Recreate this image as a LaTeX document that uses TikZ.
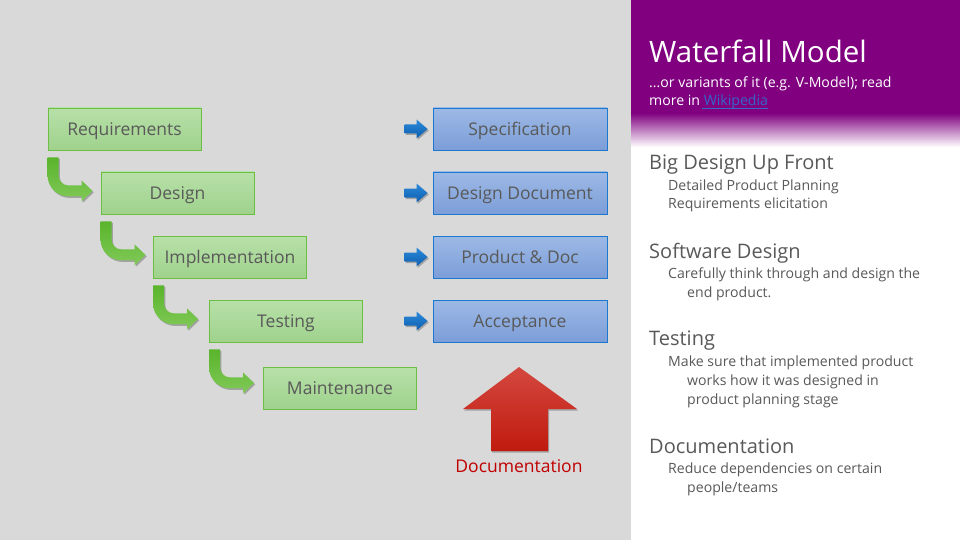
\documentclass[tikz,border=0pt]{standalone}
\usepackage{fontspec}
\setmainfont{Open Sans}
\usetikzlibrary{shadows}

\definecolor{panelgray}{HTML}{D9D9D9}
\definecolor{textgray}{HTML}{595959}
\definecolor{purpleband}{HTML}{800080}
\definecolor{greentop}{HTML}{B7E0A9}
\definecolor{greenbot}{HTML}{9FD28C}
\definecolor{greenline}{HTML}{6CBF42}
\definecolor{bluetop}{HTML}{9DB9E5}
\definecolor{bluebot}{HTML}{7C9ED8}
\definecolor{blueline}{HTML}{1C78CF}
\definecolor{arrowgreenA}{HTML}{5AB42B}
\definecolor{arrowgreenB}{HTML}{80C958}
\definecolor{arrowblueA}{HTML}{2A8AD9}
\definecolor{arrowblueB}{HTML}{0E5DAE}
\definecolor{redtop}{HTML}{D4483F}
\definecolor{redbot}{HTML}{C01A0E}
\definecolor{doclabel}{HTML}{C00000}
\definecolor{linkblue}{HTML}{3566C8}

\tikzset{
  x=1pt, y=-1pt,
  phase/.style={draw=greenline, line width=0.9pt, top color=greentop, bottom color=greenbot,
    minimum width=153pt, minimum height=42pt, inner sep=0pt,
    text height=14pt, text depth=1pt,
    font=\fontsize{17.5}{20}\selectfont, text=textgray},
  artifact/.style={draw=blueline, line width=0.9pt, top color=bluetop, bottom color=bluebot,
    minimum width=174pt, minimum height=42pt, inner sep=0pt,
    text height=14pt, text depth=1pt,
    font=\fontsize{17.5}{20}\selectfont, text=textgray},
  softshadow/.style={drop shadow={shadow xshift=1.2pt, shadow yshift=-1.5pt, opacity=0.25, fill=black}},
  heading/.style={anchor=base west, inner sep=0pt, text=textgray, font=\fontsize{20}{24}\selectfont},
  bodytext/.style={anchor=base west, inner sep=0pt, text=textgray, font=\fontsize{14.1}{17}\selectfont},
  bendarrow/.pic={
    \path[softshadow, top color=arrowgreenA, bottom color=arrowgreenB]
      (0,7) -- (0,25) .. controls (0,36.6) and (9.4,46) .. (21,46) -- (34,46) -- (34,51)
      -- (45,40.5) -- (34,30) -- (34,35) -- (21,35)
      .. controls (15.5,35) and (11,30.5) .. (11,25) -- (11,7) -- cycle;
  },
  feedarrow/.pic={
    \path[softshadow, top color=arrowblueA, bottom color=arrowblueB]
      (-28,-4.5) -- (-16,-4.5) -- (-16,-9.5) -- (-5,0) -- (-16,9.5) -- (-16,4.5) -- (-28,4.5) -- cycle;
  }
}

\begin{document}
\begin{tikzpicture}
\useasboundingbox (0,0) rectangle (960,540);

% backgrounds
\fill[panelgray] (0,0) rectangle (631,540);
\fill[white] (631,0) rectangle (960,540);
\fill[purpleband] (631,0) rectangle (960,113.5);
\shade[top color=purpleband, middle color=purpleband!40, bottom color=white] (631,113) rectangle (960,147);

% process phases
\node[phase] (req)   at (124.5,129) {Requirements};
\node[phase] (des)   at (177.5,193) {Design};
\node[phase] (impl)  at (230,257)   {Implementation};
\node[phase] (test)  at (286,321)   {Testing};
\node[phase] (maint) at (340,388)   {Maintenance};

% phase-to-phase arrows
\pic at (req.south west)  {bendarrow};
\pic at (des.south west)  {bendarrow};
\pic at (impl.south west) {bendarrow};
\pic at (test.south west) {bendarrow};

% deliverables
\node[artifact] (spec) at (520,129) {Specification};
\node[artifact] (ddoc) at (520,193) {Design Document};
\node[artifact] (prod) at (520,257) {Product \& Doc};
\node[artifact] (acc)  at (520,321) {Acceptance};

\pic at (spec.west) {feedarrow};
\pic at (ddoc.west) {feedarrow};
\pic at (prod.west) {feedarrow};
\pic at (acc.west)  {feedarrow};

% documentation arrow
\path[softshadow, top color=redtop, bottom color=redbot]
  (519,367) -- (577,409) -- (548,409) -- (548,451) -- (491,451) -- (491,409) -- (463,409) -- cycle;
\node[anchor=base, inner sep=0pt, text=doclabel, font=\fontsize{17.5}{20}\selectfont] (doclbl) at (519,472) {Documentation};

% side panel
\node[anchor=base west, inner sep=0pt, text=white, font=\fontsize{29.5}{34}\selectfont] (title) at (649,63) {Waterfall Model};
\node[anchor=base west, inner sep=0pt, text=white, font=\fontsize{14.1}{17}\selectfont] (sub1) at (649,88) {...or variants of it (e.g. V-Model); read};
\node[anchor=base west, inner sep=0pt, text=white, font=\fontsize{14.1}{17}\selectfont] (sub2) at (649,106)
  {more in \textcolor{linkblue}{Wikipedia}};
\draw[linkblue, line width=0.8pt] (sub2.base east) ++(0,2) coordinate (ulr) -- ++(-66,0) coordinate (ull);

\node[heading]  (h1)  at (649,170) {Big Design Up Front};
\node[bodytext] (t1a) at (668,190) {Detailed Product Planning};
\node[bodytext] (t1b) at (668,208) {Requirements elicitation};

\node[heading]  (h2)  at (649,258) {Software Design};
\node[bodytext] (t2a) at (668,278) {Carefully think through and design the};
\node[bodytext] (t2b) at (687,297) {end product.};

\node[heading]  (h3)  at (649,345) {Testing};
\node[bodytext] (t3a) at (668,366) {Make sure that implemented product};
\node[bodytext] (t3b) at (687,385) {works how it was designed in};
\node[bodytext] (t3c) at (687,404) {product planning stage};

\node[heading]  (h4)  at (649,453) {Documentation};
\node[bodytext] (t4a) at (668,473) {Reduce dependencies on certain};
\node[bodytext] (t4b) at (687,492) {people/teams};
\end{tikzpicture}
\end{document}
